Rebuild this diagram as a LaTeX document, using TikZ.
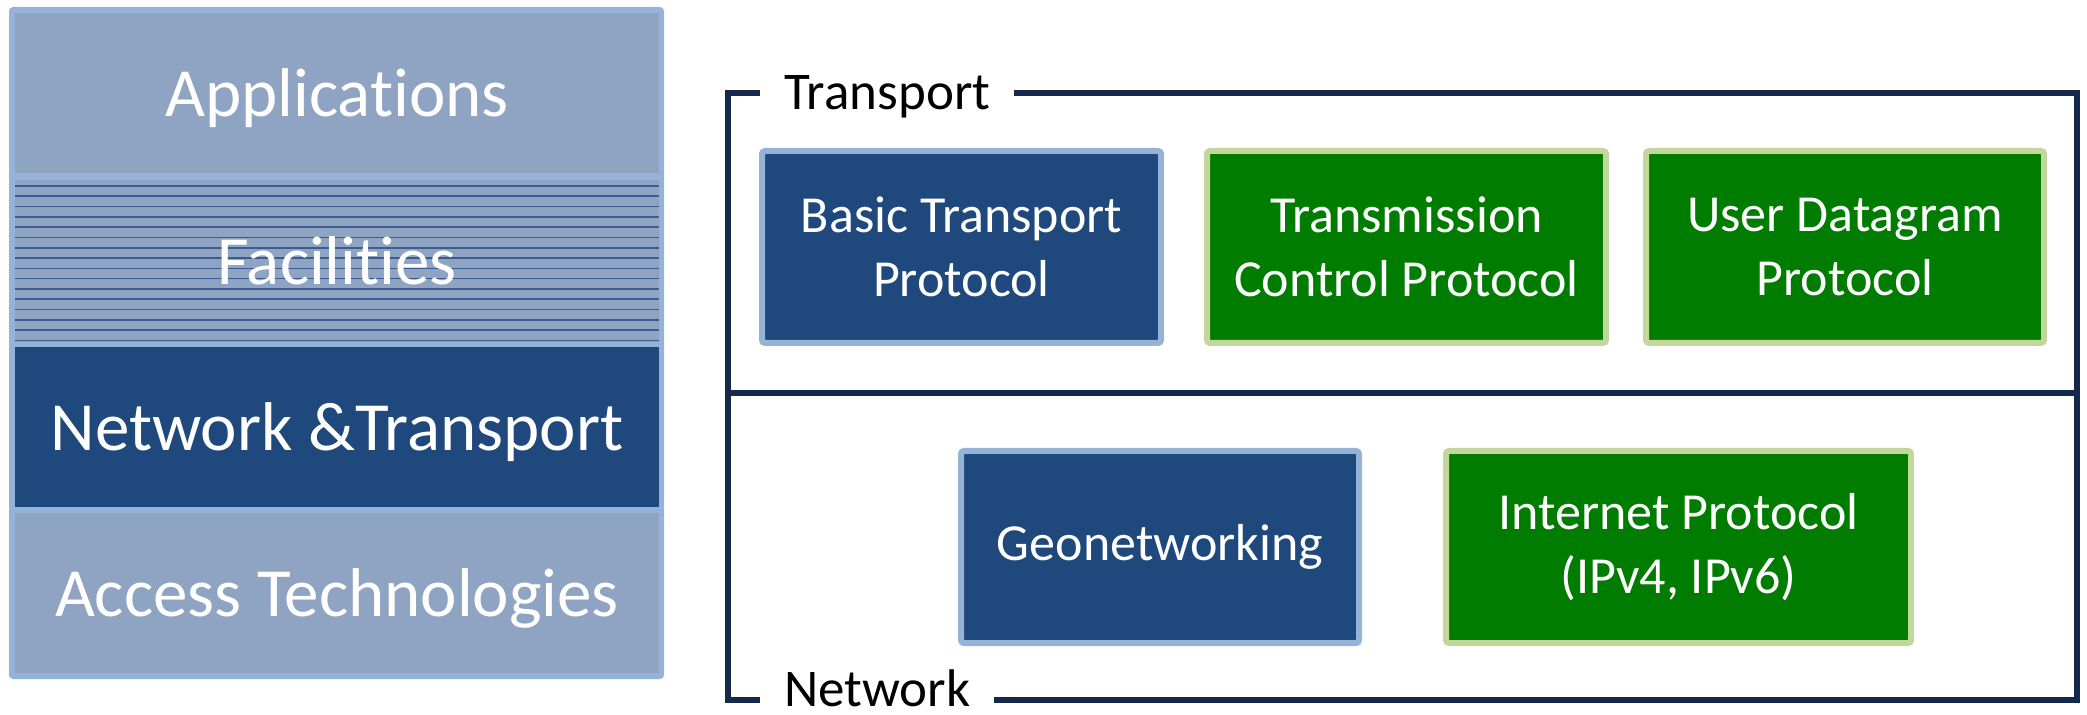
\documentclass[tikz,border=0pt]{standalone}
\usepackage{fontspec}
\setmainfont[Ligatures={NoCommon,NoContextual}, Contextuals={NoAlternate}]{Carlito}

\definecolor{stackedge}{HTML}{95B3D7}
\definecolor{layerfill}{HTML}{8FA4C3}
\definecolor{navyfill}{HTML}{1F497D}
\definecolor{greenfill}{HTML}{007D00}
\definecolor{greenedge}{HTML}{C3D69B}
\definecolor{hatchline}{HTML}{3A5C8E}
\definecolor{framecol}{HTML}{15294A}

\tikzset{
  layer/.style={rectangle, inner sep=0pt, minimum width=322pt, minimum height=80pt,
    text height=29.5pt, text depth=6pt,
    text=white, font=\fontsize{34.5}{42}\selectfont},
  lightlayer/.style={layer, fill=layerfill},
  darklayer/.style={layer, fill=navyfill},
  linedlayer/.style={lightlayer, path picture={
      \foreach \k in {0,...,15}
        \draw[hatchline, line width=0.8pt]
          ([yshift=-3pt-\k*5.15pt]path picture bounding box.north west) --
          ([yshift=-3pt-\k*5.15pt]path picture bounding box.north east);}},
  protobox/.style={rectangle, rounded corners=1.5pt, line width=3pt, inner sep=0pt,
    minimum height=96pt, text=white, align=center,
    font=\fontsize{26}{32}\selectfont},
  bluebox/.style={protobox, draw=stackedge, fill=navyfill},
  greenbox/.style={protobox, draw=greenedge, fill=greenfill},
  frameline/.style={draw=framecol, line width=2.6pt},
  framelabel/.style={fill=white, inner xsep=12pt, inner ysep=0pt, text height=17pt,
    text depth=0pt, font=\fontsize{26.5}{32}\selectfont, text=black}
}

\begin{document}
\begin{tikzpicture}[x=0.5pt, y=-0.5pt]
  \useasboundingbox (0,0) rectangle (2087,715);

  % layered stack on the left
  \fill[stackedge, rounded corners=2pt] (9,7) rectangle (664,679);
  \node[lightlayer] (apps) at (337,93) {Applications};
  \node[linedlayer, minimum height=81pt] (fac) at (337,261) {Facilities};
  \node[darklayer] (nettr) at (337,427) {Network \&Transport};
  \node[lightlayer] (access) at (337,593) {Access Technologies};

  % transport and network frames
  \draw[frameline] (728,93) rectangle (2077,393);
  \draw[frameline] (728,393) rectangle (2077,700);
  \node[framelabel, anchor=base west] (tlabel) at (760,110) {Transport};
  \node[framelabel, anchor=base west] (nlabel) at (760,706) {Network};

  % transport protocols
  \node[bluebox, minimum width=199.5pt] (btp) at (961.5,247) {Basic Transport\\Protocol};
  \node[greenbox, minimum width=199.5pt] (tcp) at (1406.5,247) {Transmission\\Control Protocol};
  \node[greenbox, minimum width=199pt] (udp) at (1845,247) {User Datagram\\Protocol};

  % network protocols
  \node[bluebox, minimum width=199pt] (geo) at (1160,547) {Geonetworking};
  \node[greenbox, minimum width=232.5pt] (ip) at (1678.5,547) {Internet Protocol\\(IPv4, IPv6)};
\end{tikzpicture}
\end{document}
